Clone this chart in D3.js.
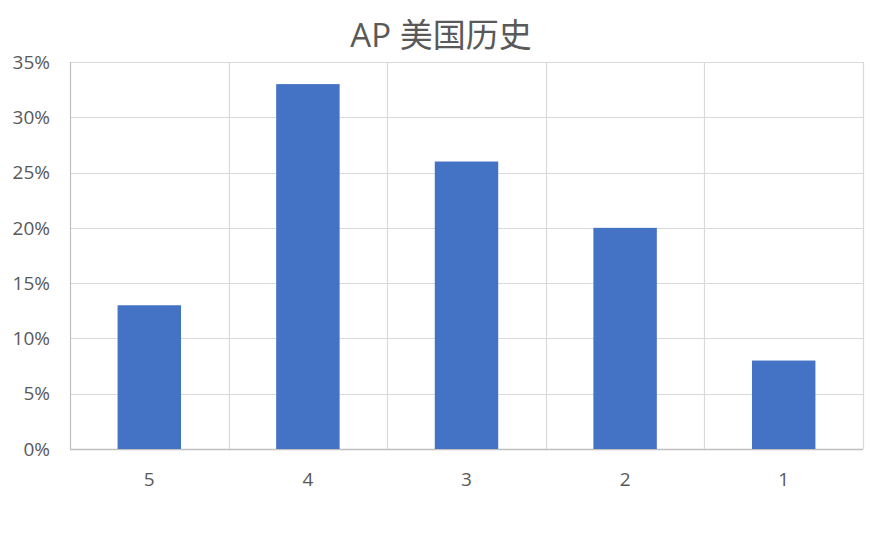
<!DOCTYPE html>
<html><head><meta charset="utf-8">
<script src="https://cdn.jsdelivr.net/npm/d3@7"></script>
<style>body{margin:0;background:#fff}svg{display:block}</style>
</head><body>
<script>
const categories = ["5","4","3","2","1"];
const values = [0.13,0.33,0.26,0.20,0.08];
const yTicks = [0,0.05,0.10,0.15,0.20,0.25,0.30,0.35];
const title = "AP 美国历史";

const W=888,H=533, m={left:70,right:25,top:62,bottom:84};
const svg=d3.select("body").append("svg").attr("width",W).attr("height",H);
const font="'Open Sans','Noto Sans CJK SC',sans-serif";
const x=d3.scaleBand().domain(categories).range([m.left,W-m.right]).paddingInner(0).paddingOuter(0);
const y=d3.scaleLinear().domain([0,0.35]).range([H-m.bottom,m.top]);

const g=svg.append("g");
g.selectAll("line.h").data(yTicks).join("line")
 .attr("x1",m.left).attr("x2",W-m.right)
 .attr("y1",d=>Math.round(y(d))+0.5).attr("y2",d=>Math.round(y(d))+0.5)
 .attr("stroke",d=>d===0?"#bfbfbf":"#d9d9d9").attr("stroke-width",d=>d===0?1.5:1.2);
const edges=categories.map(c=>x(c)).concat([W-m.right]);
g.selectAll("line.v").data(edges).join("line")
 .attr("x1",d=>Math.round(d)+0.5).attr("x2",d=>Math.round(d)+0.5)
 .attr("y1",y(0.35)).attr("y2",y(0))
 .attr("stroke",(d,i)=>i===0?"#bfbfbf":"#d9d9d9").attr("stroke-width",1.2);

const bw=x.bandwidth()*0.4;
svg.selectAll("rect.bar").data(values).join("rect")
 .attr("x",(d,i)=>x(categories[i])+(x.bandwidth()-bw)/2)
 .attr("width",bw)
 .attr("y",d=>y(d)).attr("height",d=>y(0)-y(d))
 .attr("fill","#4472c4");

svg.selectAll("text.y").data(yTicks).join("text")
 .attr("x",m.left-20).attr("y",d=>y(d)).attr("dy","0.35em")
 .attr("text-anchor","end").attr("fill","#595959")
 .attr("font-family",font).attr("font-size",19)
 .text(d=>d3.format(".0%")(d));

svg.selectAll("text.x").data(categories).join("text")
 .attr("x",d=>x(d)+x.bandwidth()/2).attr("y",y(0)+30).attr("dy","0.35em")
 .attr("text-anchor","middle").attr("fill","#595959")
 .attr("font-family",font).attr("font-size",19)
 .text(d=>d);

svg.append("text").attr("x",441).attr("y",47)
 .attr("text-anchor","middle").attr("fill","#595959")
 .attr("font-family",font).attr("font-size",33)
 .text(title);
</script>
</body></html>
